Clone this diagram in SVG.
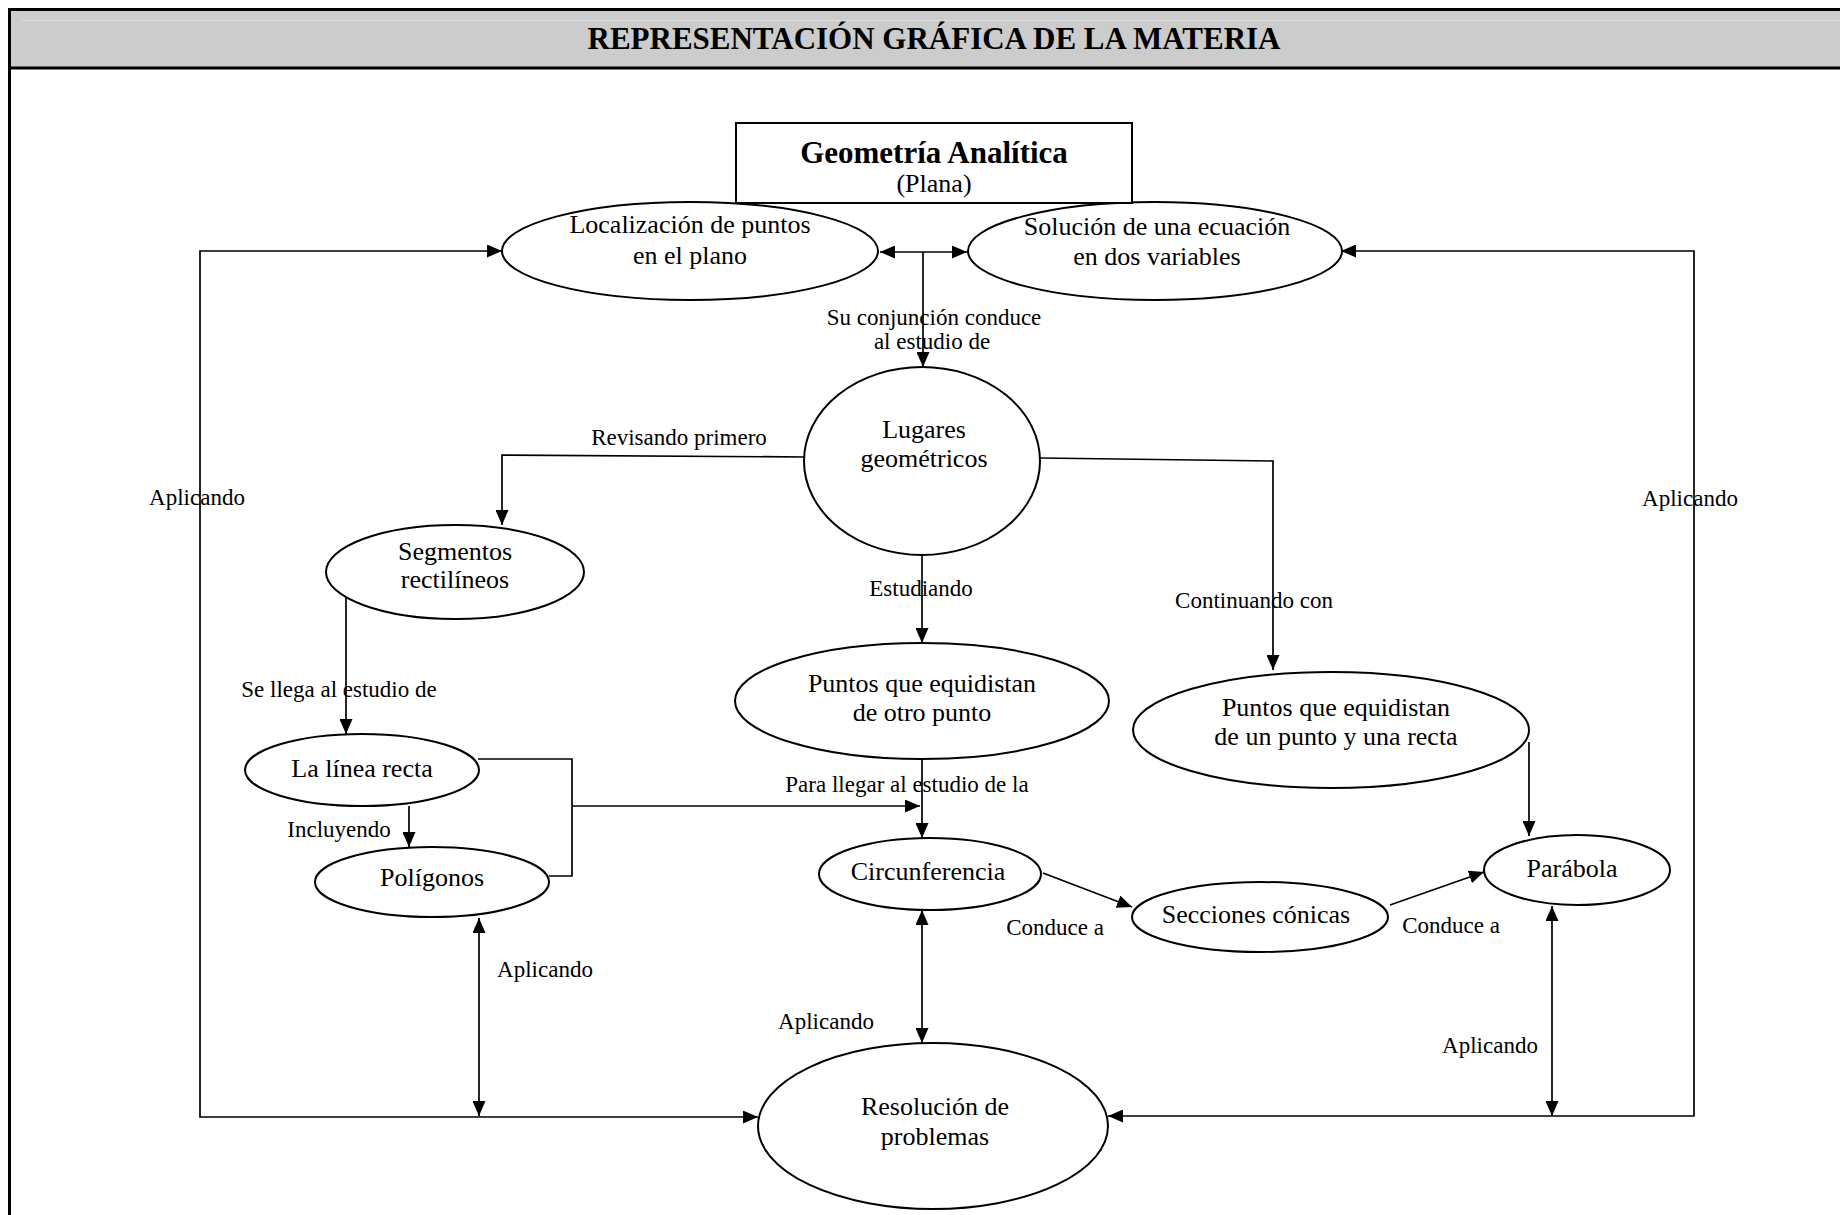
<svg xmlns="http://www.w3.org/2000/svg" width="1840" height="1215" viewBox="0 0 1840 1215">
<style>
  text { font-family: "Liberation Serif", "Times New Roman", serif; fill: #000; }
  .title { font-size: 31px; font-weight: bold; text-anchor: middle; }
  .nt { font-size: 26px; text-anchor: middle; }
  .nb { font-size: 31px; font-weight: bold; text-anchor: middle; }
  .lb { font-size: 23px; text-anchor: middle; }
  .node { fill: #fff; stroke: #000; stroke-width: 2; }
  .conn { fill: none; stroke: #000; stroke-width: 1.7; }
</style>
<defs>
  <marker id="arr" viewBox="0 0 15 13" refX="15" refY="6.5" markerWidth="15" markerHeight="13" markerUnits="userSpaceOnUse" orient="auto-start-reverse">
    <path d="M0,0 L15,6.5 L0,13 z" fill="#000"/>
  </marker>
</defs>
<rect x="0" y="0" width="1840" height="1215" fill="#fff"/>
<g id="frame">
  <rect x="9" y="9" width="1840" height="59" fill="#cccccc"/>
  <line x1="22" y1="20.5" x2="1840" y2="20.5" stroke="#dedede" stroke-width="1"/>
  <line x1="9" y1="9.5" x2="1840" y2="9.5" stroke="#000" stroke-width="3"/>
  <line x1="9" y1="68" x2="1840" y2="68" stroke="#000" stroke-width="3"/>
  <line x1="9.5" y1="8" x2="9.5" y2="1215" stroke="#000" stroke-width="3"/>
  <text class="title" x="934" y="49">REPRESENTACIÓN GRÁFICA DE LA MATERIA</text>
</g>
<g id="connectors">
  <line class="conn" x1="880" y1="252" x2="967" y2="252" marker-start="url(#arr)" marker-end="url(#arr)"/>
  <line class="conn" x1="923" y1="252" x2="923" y2="367" marker-end="url(#arr)"/>
  <polyline class="conn" points="805,457 502,455 502,525" marker-end="url(#arr)"/>
  <line class="conn" x1="922" y1="555" x2="922" y2="643" marker-end="url(#arr)"/>
  <polyline class="conn" points="1040,458 1273,461 1273,670" marker-end="url(#arr)"/>
  <line class="conn" x1="346" y1="596" x2="346" y2="734" marker-end="url(#arr)"/>
  <line class="conn" x1="409" y1="806" x2="409" y2="847" marker-end="url(#arr)"/>
  <polyline class="conn" points="478,759 572,759 572,876 549,876"/>
  <line class="conn" x1="572" y1="806" x2="920" y2="806" marker-end="url(#arr)"/>
  <line class="conn" x1="922" y1="759" x2="922" y2="838" marker-end="url(#arr)"/>
  <line class="conn" x1="1043" y1="873" x2="1132" y2="907" marker-end="url(#arr)"/>
  <line class="conn" x1="1390" y1="905" x2="1484" y2="872" marker-end="url(#arr)"/>
  <line class="conn" x1="1529" y1="742" x2="1529" y2="836" marker-end="url(#arr)"/>
  <path class="conn" d="M502,251 H200 V1117 H758" marker-start="url(#arr)" marker-end="url(#arr)"/>
  <path class="conn" d="M1341,251 H1694 V1116 H1108" marker-start="url(#arr)" marker-end="url(#arr)"/>
  <line class="conn" x1="479" y1="918" x2="479" y2="1116" marker-start="url(#arr)" marker-end="url(#arr)"/>
  <line class="conn" x1="922" y1="910" x2="922" y2="1043" marker-start="url(#arr)" marker-end="url(#arr)"/>
  <line class="conn" x1="1552" y1="906" x2="1552" y2="1116" marker-start="url(#arr)" marker-end="url(#arr)"/>
</g>
<g id="labels">
  <text class="lb" x="934" y="325">Su conjunción conduce</text>
  <text class="lb" x="932" y="349">al estudio de</text>
  <text class="lb" x="679" y="445">Revisando primero</text>
  <text class="lb" x="197" y="505">Aplicando</text>
  <text class="lb" x="1690" y="506">Aplicando</text>
  <text class="lb" x="921" y="596">Estudiando</text>
  <text class="lb" x="1254" y="608">Continuando con</text>
  <text class="lb" x="339" y="697">Se llega al estudio de</text>
  <text class="lb" x="339" y="837">Incluyendo</text>
  <text class="lb" x="907" y="792">Para llegar al estudio de la</text>
  <text class="lb" x="545" y="977">Aplicando</text>
  <text class="lb" x="826" y="1029">Aplicando</text>
  <text class="lb" x="1490" y="1053">Aplicando</text>
  <text class="lb" x="1055" y="935">Conduce a</text>
  <text class="lb" x="1451" y="933">Conduce a</text>
</g>
<g id="n-localizacion">
  <ellipse class="node" cx="690" cy="251" rx="188" ry="49"/>
  <text class="nt" x="690" y="233">Localización de puntos</text>
  <text class="nt" x="690" y="264">en el plano</text>
</g>
<g id="n-solucion">
  <ellipse class="node" cx="1155" cy="251" rx="187" ry="49"/>
  <text class="nt" x="1157" y="235">Solución de una ecuación</text>
  <text class="nt" x="1157" y="265">en dos variables</text>
</g>
<g id="n-geometria">
  <rect class="node" x="736" y="123" width="396" height="80"/>
  <text class="nb" x="934" y="163">Geometría Analítica</text>
  <text class="nt" x="934" y="192">(Plana)</text>
</g>
<g id="n-lugares">
  <ellipse class="node" cx="922" cy="461" rx="118" ry="94"/>
  <text class="nt" x="924" y="438">Lugares</text>
  <text class="nt" x="924" y="467">geométricos</text>
</g>
<g id="n-segmentos">
  <ellipse class="node" cx="455" cy="572" rx="129" ry="47"/>
  <text class="nt" x="455" y="560">Segmentos</text>
  <text class="nt" x="455" y="588">rectilíneos</text>
</g>
<g id="n-puntos-otro">
  <ellipse class="node" cx="922" cy="701" rx="187" ry="58"/>
  <text class="nt" x="922" y="692">Puntos que equidistan</text>
  <text class="nt" x="922" y="721">de otro punto</text>
</g>
<g id="n-puntos-recta">
  <ellipse class="node" cx="1331" cy="730" rx="198" ry="58"/>
  <text class="nt" x="1336" y="716">Puntos que equidistan</text>
  <text class="nt" x="1336" y="745">de un punto y una recta</text>
</g>
<g id="n-linea">
  <ellipse class="node" cx="362" cy="770" rx="117" ry="36"/>
  <text class="nt" x="362" y="777">La línea recta</text>
</g>
<g id="n-poligonos">
  <ellipse class="node" cx="432" cy="882" rx="117" ry="35"/>
  <text class="nt" x="432" y="886">Polígonos</text>
</g>
<g id="n-circunferencia">
  <ellipse class="node" cx="930" cy="874" rx="111" ry="36"/>
  <text class="nt" x="928" y="880">Circunferencia</text>
</g>
<g id="n-secciones">
  <ellipse class="node" cx="1260" cy="917" rx="128" ry="35"/>
  <text class="nt" x="1256" y="923">Secciones cónicas</text>
</g>
<g id="n-parabola">
  <ellipse class="node" cx="1577" cy="870" rx="93" ry="35"/>
  <text class="nt" x="1572" y="877">Parábola</text>
</g>
<g id="n-resolucion">
  <ellipse class="node" cx="933" cy="1126" rx="175" ry="83"/>
  <text class="nt" x="935" y="1115">Resolución de</text>
  <text class="nt" x="935" y="1145">problemas</text>
</g>
</svg>
